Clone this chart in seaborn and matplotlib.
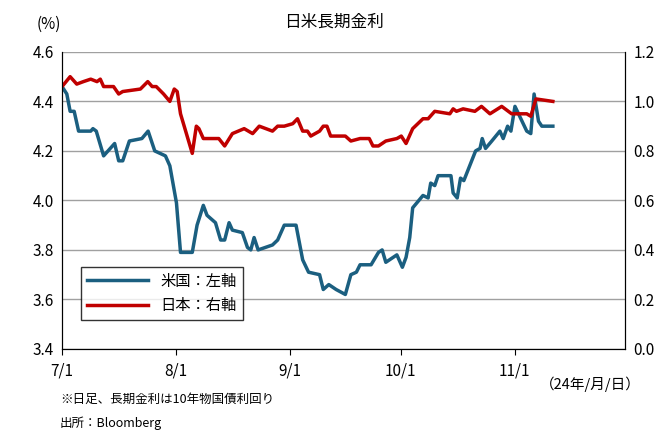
import matplotlib
matplotlib.use("Agg")
import matplotlib.pyplot as plt
import seaborn as sns
import pandas as pd

plt.rcParams["font.family"] = ["Noto Sans CJK JP"]

# days since 7/1 and yields
us_day = [0,1.3,2.2,3.3,4.5,7.8,8.4,9.3,11.3,14.3,15.4,16.5,18.3,21.7,23.4,25.2,28.1,29.3,31.1,32.2,35.4,36.7,38.4,39.4,41.7,43.1,44.2,45.4,46.3,49.0,50.4,51.3,52.2,53.3,57.2,58.6,60.4,63.6,65.4,67,70,71,72.5,74.5,77,78.5,80,81,84,86,87,88,91,92.5,93.5,94.5,95.3,98.1,99.5,100.2,101.3,102.2,105.7,106.3,107.4,108.3,109.2,112.4,113.6,114.2,115.1,116.8,119.0,119.9,121.1,122.0,123.1,126.3,127.4,128.3,129.5,130.4,133.4]
us_val = [4.46,4.43,4.36,4.36,4.28,4.28,4.29,4.28,4.18,4.23,4.16,4.16,4.24,4.25,4.28,4.20,4.18,4.14,3.99,3.79,3.79,3.90,3.98,3.94,3.91,3.84,3.84,3.91,3.88,3.87,3.81,3.80,3.85,3.80,3.82,3.84,3.90,3.90,3.76,3.71,3.70,3.64,3.66,3.64,3.62,3.70,3.71,3.74,3.74,3.79,3.80,3.75,3.78,3.73,3.77,3.85,3.97,4.02,4.01,4.07,4.06,4.10,4.10,4.03,4.01,4.09,4.08,4.20,4.21,4.25,4.21,4.24,4.28,4.25,4.30,4.28,4.38,4.28,4.27,4.43,4.32,4.30,4.30]
jp_day = [0,2.2,4.0,5.8,7.8,9.5,10.4,11.3,14,15.4,16.5,21.3,23.3,24.5,25.6,27.6,29.3,30.5,31.3,32.2,35.4,36.5,37.2,38.4,42.6,44.2,46.3,49.5,51.8,53.6,57.2,58.6,60.4,62.7,64.0,65.4,66.7,67.6,70,71,72,73,77,78.5,81,83.5,84.5,86,88,91,92.2,93.5,95.3,98.1,99.5,101.3,105.4,106.3,107.2,109,112.2,114,116.3,119.5,122.2,126.3,127.4,128.8,133.4]
jp_val = [1.06,1.10,1.07,1.08,1.09,1.08,1.09,1.06,1.06,1.03,1.04,1.05,1.08,1.06,1.06,1.03,1.00,1.05,1.04,0.95,0.79,0.90,0.89,0.85,0.85,0.82,0.87,0.89,0.87,0.90,0.88,0.90,0.90,0.91,0.93,0.88,0.88,0.86,0.88,0.90,0.90,0.86,0.86,0.84,0.85,0.85,0.82,0.82,0.84,0.85,0.86,0.83,0.89,0.93,0.93,0.96,0.95,0.97,0.96,0.97,0.96,0.98,0.95,0.98,0.95,0.95,0.94,1.01,1.00]
tick_days = [0, 31, 62, 92, 123]
tick_labels = ["7/1", "8/1", "9/1", "10/1", "11/1"]

fig = plt.figure(figsize=(6.67, 4.4), dpi=100)
ax = fig.add_axes([0.093, 0.207, 0.844, 0.675])
ax2 = ax.twinx()
blue, red = "#1b5f80", "#c00000"
sns.lineplot(x=us_day, y=us_val, ax=ax, color=blue, lw=2.5, label="米国：左軸", legend=False)
sns.lineplot(x=jp_day, y=jp_val, ax=ax2, color=red, lw=2.5, label="日本：右軸", legend=False)
ax.set_xlim(0, 153)
ax.set_ylim(3.4, 4.6)
ax2.set_ylim(0, 1.2)
ax.set_yticks([3.4,3.6,3.8,4.0,4.2,4.4,4.6])
ax.set_yticklabels([f"{v:.1f}" for v in [3.4,3.6,3.8,4.0,4.2,4.4,4.6]])
ax2.set_yticks([0,0.2,0.4,0.6,0.8,1.0,1.2])
ax2.set_yticklabels([f"{v:.1f}" for v in [0,0.2,0.4,0.6,0.8,1.0,1.2]])
ax.set_xticks(tick_days)
ax.set_xticklabels(tick_labels)
for a in (ax, ax2):
    a.tick_params(labelsize=11, length=0, pad=6)
    a.spines["top"].set_visible(False)
    for s in ("left", "right", "bottom"):
        a.spines[s].set_color("black")
ax.tick_params(axis="x", length=4, direction="out")
ax.grid(axis="y", color="#a0a0a0", lw=1)
ax.set_axisbelow(True)
ax.set_xlabel(""); ax.set_ylabel(""); ax2.set_ylabel("")
h1, l1 = ax.get_legend_handles_labels()
h2, l2 = ax2.get_legend_handles_labels()
leg = ax2.legend(h1 + h2, l1 + l2, loc="lower left", bbox_to_anchor=(0.02, 0.07), frameon=True,
                 fancybox=False, edgecolor="black", fontsize=11, handlelength=4)
leg.get_frame().set_linewidth(1)
fig.text(0.5, 0.94, "日米長期金利", ha="center", fontsize=12)
fig.text(0.055, 0.935, "(%)", fontsize=11)
fig.text(0.81, 0.115, "（24年/月/日）", fontsize=10.5)
fig.text(0.09, 0.085, "※日足、長期金利は10年物国債利回り", fontsize=9)
fig.text(0.09, 0.03, "出所：Bloomberg", fontsize=9)
fig.savefig("out.png", dpi=100)
